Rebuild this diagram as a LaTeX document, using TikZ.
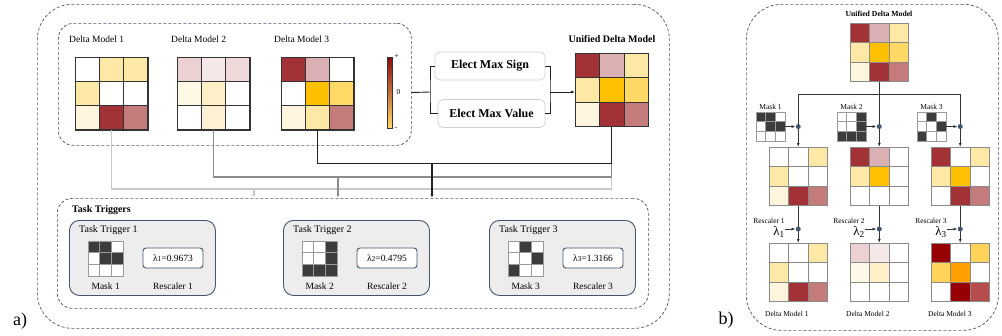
\documentclass[tikz,border=0pt]{standalone}
\usepackage{fontspec}
\setmainfont{Liberation Serif}
\usetikzlibrary{positioning,arrows.meta}

% palette
\definecolor{slate}{HTML}{44546A}
\definecolor{gridc}{HTML}{333333}
\definecolor{rgrid}{HTML}{8A8A8A}
\definecolor{maskline}{HTML}{9A9A9A}
\definecolor{maskdark}{HTML}{3C3C3C}
\definecolor{lightbd}{HTML}{CFCFCF}
\definecolor{trigfill}{HTML}{EDEDED}
\definecolor{dred}{HTML}{A33236}
\definecolor{rose}{HTML}{C47B7C}
\definecolor{pinkl}{HTML}{DBB0B2}
\definecolor{yl}{HTML}{FDE8A5}
\definecolor{cream}{HTML}{FEF5DF}
\definecolor{gold}{HTML}{FFC000}
\definecolor{goldl}{HTML}{FFD966}
\definecolor{pka}{HTML}{ECD1D3}
\definecolor{pkb}{HTML}{F5E8E8}
\definecolor{pkc}{HTML}{EED8D9}
\definecolor{crb}{HTML}{FEF8E6}
\definecolor{ylb}{HTML}{FDF0C8}
\definecolor{crc}{HTML}{FDF0D3}
\definecolor{deepred}{HTML}{960000}
\definecolor{orng}{HTML}{FFA000}
\definecolor{goldm}{HTML}{FFD35A}
\definecolor{roseD}{HTML}{B84C4C}
\definecolor{cbred}{HTML}{8B0A0F}
\definecolor{cbyel}{HTML}{FFD966}
\definecolor{linelight}{HTML}{C8C8C8}
\definecolor{linemid}{HTML}{8C8C8C}
\definecolor{linedark}{HTML}{222222}

% 3x3 heatmap: [style]{name}{left}{top}{cell}{rows}
\newcommand{\heatmap}[6][]{%
  \foreach \row [count=\rowno] in {#6} {
    \foreach \col [count=\colno] in \row {
      \node[cell, minimum size=#5, fill=\col, #1] at ({#3+(\colno-0.5)*#5}, {#4+(\rowno-0.5)*#5}) {};
    }
  }
  \node[gridbox, minimum size=3*#5, anchor=north west, #1] (#2) at (#3,#4) {};
}

% task trigger card: {number}{left}{mask rows}{lambda}
\newcommand{\trigger}[4]{%
  \node[trigbox, anchor=north west] (tt#1) at (#2,220) {};
  \node[tlabel, anchor=north west] at (#2+10,225) {Task Trigger #1};
  \heatmap[draw=maskline]{mask#1}{#2+19}{241}{11.8}{#3}
  \node[lambox] (lam#1) at (#2+104,258) {λ{\fontsize{7.5}{9}\selectfont #1}=#4};
  \node[lbl] at (mask#1.south |- 0,286) {Mask #1};
  \node[lbl] at (lam#1.south |- 0,286) {Rescaler #1};
}

\begin{document}
\begin{tikzpicture}[x=1pt, y=-1pt,
  >={Latex[length=4pt,width=3pt]},
  cell/.style={draw=gridc, line width=0.7pt, inner sep=0, outer sep=0},
  gridbox/.style={draw=gridc, line width=0.9pt, inner sep=0, outer sep=0},
  rline/.style={draw=rgrid},
  dashbox/.style={draw=slate, dash pattern=on 3pt off 2pt, line width=0.7pt, rounded corners=15pt, inner sep=0},
  panel/.style={dashbox, rounded corners=35pt},
  electbox/.style={draw=lightbd, fill=white, rounded corners=5pt, line width=0.7pt, minimum height=28, inner sep=0, font=\bfseries\fontsize{12}{14}\selectfont},
  trigbox/.style={draw=slate, fill=trigfill, rounded corners=10pt, line width=0.9pt, minimum width=146, minimum height=75, inner sep=0},
  lambox/.style={draw=slate, fill=white, rounded corners=3pt, line width=0.9pt, minimum width=60, minimum height=20, inner sep=0, font=\fontsize{9.5}{11}\selectfont},
  lbl/.style={inner sep=0, font=\fontsize{9.5}{11}\selectfont},
  tlabel/.style={inner sep=0, font=\fontsize{10}{12}\selectfont},
  head/.style={inner sep=0, font=\bfseries\fontsize{10}{12}\selectfont},
  rsmall/.style={inner sep=0, font=\fontsize{7.5}{9}\selectfont},
  conn/.style={draw=linedark, line width=0.9pt},
  lconn/.style={draw=linelight, line width=1.3pt},
  mconn/.style={draw=linemid, line width=1.2pt},
  dconn/.style={draw=linedark, line width=1.1pt},
  rconn/.style={draw=gridc, line width=0.8pt},
  dot/.style={circle, fill=slate, inner sep=0, minimum size=5},
]
\useasboundingbox (0,0) rectangle (1002,335);

% ---------- panel a ----------
\node[panel, anchor=north west, minimum width=632, minimum height=324] (panela) at (37,4) {};
\node[dashbox, anchor=north west, minimum width=353, minimum height=122] (models) at (58,23) {};

\node[lbl, anchor=west] at (69,39) {Delta Model 1};
\node[lbl, anchor=west] at (171,39) {Delta Model 2};
\node[lbl, anchor=west] at (274,39) {Delta Model 3};

\heatmap{dm1}{75}{57}{24.3}{{white,yl,yl},{yl,white,white},{cream,dred,rose}}
\heatmap{dm2}{177}{57}{24.3}{{pka,pkb,pkc},{crb,ylb,white},{white,crc,white}}
\heatmap{dm3}{281}{57}{24.3}{{dred,pinkl,white},{white,gold,goldl},{cream,yl,rose}}

% colour bar
\node[draw=gridc, line width=0.7pt, inner sep=0, minimum width=5, minimum height=71,
  top color=cbred, middle color=white, bottom color=cbyel] (cbar) at (389.5,92.5) {};
\node[rsmall, anchor=west] at ([xshift=2]cbar.north east) {+};
\node[rsmall, anchor=west] at ([xshift=4]cbar.east) {0};
\node[rsmall, anchor=west] at ([xshift=2]cbar.south east) {-};

% election
\node[electbox, minimum width=110] (sign) at (490,66) {Elect Max Sign};
\node[electbox, minimum width=107] (value) at (491.5,113.5) {Elect Max Value};
\coordinate (lb) at (430,92);
\coordinate (rb) at (550,92);
\draw[conn] (cbar.east -| models.east) -- (lb);
\draw[conn] (sign.west) -| (lb) |- (value.west);
\draw[conn] (sign.east) -| (rb) |- (value.east);

\node[head] at (612,39) {Unified Delta Model};
\heatmap{ud}{575}{53}{24.5}{{dred,pinkl,yl},{yl,gold,goldl},{cream,dred,rose}}
\draw[conn, ->] (rb) -- (rb -| ud.west);

% task triggers
\node[dashbox, anchor=north west, minimum width=591, minimum height=110] (tt) at (57,198) {};
\node[head, anchor=west] at (72,210) {Task Triggers};
\trigger{1}{69}{{maskdark,maskdark,white},{white,maskdark,maskdark},{white,white,white}}{0.9673}
\trigger{2}{283}{{white,white,maskdark},{white,white,maskdark},{maskdark,maskdark,maskdark}}{0.4795}
\trigger{3}{489}{{white,maskdark,white},{white,white,maskdark},{maskdark,white,white}}{1.3166}

% links to the triggers
\draw[lconn] (dm1.south) -- ++(0,59) -| (ud.south);
\draw[mconn] (dm2.south) -- ++(0,47) -| (ud.south);
\draw[dconn] (dm3.south) -- ++(0,34) -| (ud.south);
\coordinate (a1) at (254,188);
\coordinate (a2) at (338,176);
\coordinate (a3) at (432,163);
\draw[lconn, ->] (a1) -- (a1 |- tt.north);
\draw[mconn, ->] (a2) -- (a2 |- tt.north);
\draw[dconn, ->] (a3) -- (a3 |- tt.north);

\node[inner sep=0, font=\fontsize{18}{20}\selectfont] at (20,321) {a)};

% ---------- panel b ----------
\node[panel, anchor=north west, minimum width=252, minimum height=326] (panelb) at (746,4) {};
\node[inner sep=0, font=\fontsize{18}{20}\selectfont] at (726,320) {b)};

\node[inner sep=0, font=\bfseries\fontsize{7.7}{9}\selectfont] at (879,14) {Unified Delta Model};
\heatmap[rline]{ru}{850}{23}{19.5}{{dred,pinkl,yl},{yl,gold,goldl},{cream,dred,rose}}

\heatmap[draw=maskline]{rmask1}{756}{112}{9.7}{{maskdark,maskdark,white},{white,maskdark,maskdark},{white,white,white}}
\heatmap[draw=maskline]{rmask2}{837}{112}{9.7}{{white,white,maskdark},{white,white,maskdark},{maskdark,maskdark,maskdark}}
\heatmap[draw=maskline]{rmask3}{917}{112}{9.7}{{white,maskdark,white},{white,white,maskdark},{maskdark,white,white}}
\node[rsmall, above=2pt of rmask1] {Mask 1};
\node[rsmall, above=2pt of rmask2] {Mask 2};
\node[rsmall, above=2pt of rmask3] {Mask 3};

\heatmap[rline]{mk1}{769}{147}{19.5}{{white,white,yl},{yl,white,white},{cream,dred,rose}}
\heatmap[rline]{mk2}{850}{147}{19.5}{{dred,pinkl,white},{yl,gold,white},{white,white,white}}
\heatmap[rline]{mk3}{931}{147}{19.5}{{dred,white,yl},{yl,gold,white},{white,dred,rose}}

\heatmap[rline]{rd1}{769}{243}{19.5}{{white,white,yl},{yl,white,white},{cream,dred,rose}}
\heatmap[rline]{rd2}{850}{243}{19.5}{{pka,pkb,white},{crb,ylb,white},{white,white,white}}
\heatmap[rline]{rd3}{931}{243}{19.5}{{deepred,white,goldm},{goldm,orng,white},{white,deepred,roseD}}

\node[rsmall, anchor=west] at (765,314) {Delta Model 1};
\node[rsmall, anchor=west] at (846,314) {Delta Model 2};
\node[rsmall, anchor=west] at (928,314) {Delta Model 3};

\draw[rconn] (ru.south) -- (ru.south |- 0,94);
\draw[rconn] (mk1.north |- 0,94) -- (mk3.north |- 0,94);
\foreach \i/\lx in {1/769, 2/849, 3/931} {
  \node[rsmall] at (\lx,221) {Rescaler \i};
  \node[inner sep=0, font=\fontsize{13}{15}\selectfont] (rlam\i) at (\lx+10,232) {λ\textsubscript{\i}};
  \draw[rconn, ->] (mk\i.north |- 0,94) -- (mk\i.north);
  \draw[rconn, ->] (mk\i.south) -- (rd\i.north);
  \node[dot] (da\i) at (mk\i.north |- rmask\i.east) {};
  \node[dot] (db\i) at (mk\i.south |- 0,229) {};
  \draw[rconn, ->] (rmask\i.east) -- (da\i);
  \draw[rconn, ->] (db\i -| rlam\i.east) -- (db\i);
}
\end{tikzpicture}
\end{document}
